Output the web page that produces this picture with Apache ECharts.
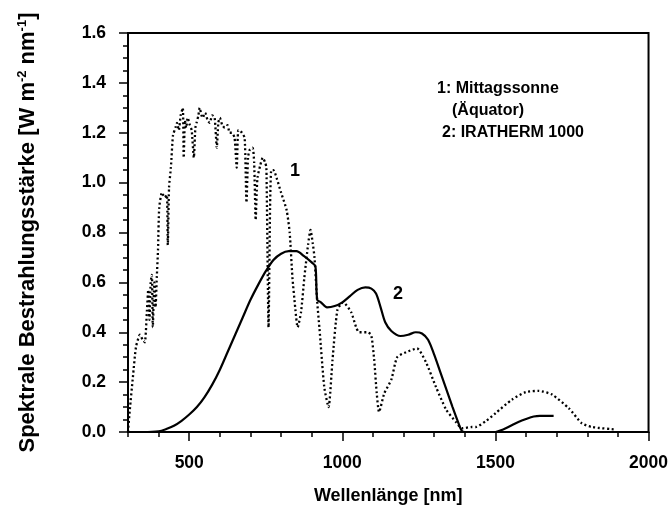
<!DOCTYPE html>
<html>
<head>
<meta charset="utf-8">
<script src="https://cdn.jsdelivr.net/npm/echarts@6/dist/echarts.min.js"></script>
<style>
    html, body { margin: 0; padding: 0; background: #fff; }
    #chart { width: 671px; height: 521px; }
</style>
</head>
<body>
<div id="chart"></div>
<script>
// curve 1: midday sun at the equator (dotted)
var sunData = [
    [300, 0.0], [306, 0.09], [316, 0.22], [326, 0.34], [339, 0.39], [348, 0.37], [355, 0.36],
    [362, 0.49], [366, 0.57], [370, 0.45], [374, 0.60], [378, 0.63], [381, 0.42], [386, 0.60],
    [390, 0.50], [394, 0.62], [398, 0.73], [402, 0.90], [411, 0.96], [420, 0.94], [427, 0.95],
    [430, 0.75], [434, 0.98], [440, 1.06], [447, 1.19], [455, 1.22], [460, 1.24], [466, 1.21],
    [472, 1.27], [479, 1.30], [482, 1.10], [486, 1.25], [490, 1.22], [495, 1.26], [502, 1.23],
    [508, 1.21], [515, 1.10], [520, 1.22], [524, 1.24], [530, 1.27], [534, 1.30], [540, 1.27],
    [544, 1.26], [552, 1.28], [560, 1.25], [567, 1.24], [575, 1.27], [583, 1.26], [590, 1.14],
    [595, 1.24], [600, 1.26], [608, 1.23], [616, 1.22], [625, 1.23], [632, 1.20], [639, 1.20],
    [648, 1.18], [655, 1.06], [660, 1.21], [665, 1.21], [672, 1.20], [681, 1.18], [687, 0.92],
    [692, 1.10], [697, 1.13], [707, 1.14], [712, 1.08], [717, 0.85], [720, 0.95], [723, 1.02],
    [732, 1.07], [740, 1.10], [748, 1.08], [752, 1.06], [759, 0.42], [764, 0.90], [768, 1.05],
    [775, 1.05], [785, 1.02], [800, 0.96], [818, 0.89], [828, 0.80], [837, 0.62], [846, 0.50],
    [854, 0.42], [865, 0.48], [876, 0.62], [888, 0.75], [896, 0.81], [903, 0.76], [909, 0.70],
    [918, 0.52], [925, 0.42], [941, 0.18], [955, 0.10], [968, 0.29], [984, 0.49], [1003, 0.52],
    [1029, 0.48], [1045, 0.42], [1055, 0.40], [1080, 0.40], [1094, 0.39], [1104, 0.29],
    [1112, 0.16], [1120, 0.08], [1137, 0.155], [1160, 0.21], [1179, 0.30], [1208, 0.32],
    [1244, 0.335], [1273, 0.28], [1306, 0.18], [1339, 0.09], [1371, 0.04], [1391, 0.015],
    [1423, 0.02], [1436, 0.02], [1470, 0.045], [1500, 0.075], [1554, 0.13], [1599, 0.16],
    [1642, 0.165], [1685, 0.15], [1740, 0.095], [1782, 0.035], [1815, 0.02], [1892, 0.01]
];

// curve 2: IRATHERM 1000 (solid)
var irathermData = [
    [300, 0], [350, 0], [400, 0.003], [425, 0.012], [450, 0.025], [475, 0.045], [500, 0.07],
    [525, 0.10], [550, 0.14], [575, 0.19], [600, 0.25], [625, 0.32], [650, 0.39], [675, 0.46],
    [700, 0.53], [725, 0.59], [750, 0.645], [775, 0.69], [800, 0.715], [825, 0.725],
    [850, 0.725], [875, 0.705], [900, 0.68], [912, 0.665], [918, 0.53], [930, 0.52],
    [950, 0.50], [975, 0.505], [1000, 0.52], [1025, 0.545], [1050, 0.57], [1075, 0.58],
    [1095, 0.575], [1110, 0.555], [1125, 0.50], [1140, 0.44], [1160, 0.405], [1190, 0.385],
    [1215, 0.39], [1240, 0.40], [1260, 0.395], [1280, 0.37], [1300, 0.31], [1320, 0.24],
    [1340, 0.17], [1360, 0.10], [1375, 0.05], [1390, 0.005], [1400, 0], [1500, 0],
    [1525, 0.01], [1550, 0.025], [1575, 0.04], [1600, 0.052], [1625, 0.062], [1645, 0.065],
    [1690, 0.065]
];

var xMajorTicks = [500, 1000, 1500, 2000];
var legendLines = ['1: Mittagssonne', '(Äquator)', '2: IRATHERM 1000'];

var font = 'Liberation Sans, Arial, sans-serif';
var chart = echarts.init(document.getElementById('chart'));

var option = {
    backgroundColor: '#fff',
    animation: false,
    grid: {
        left: 128,
        right: 21,
        top: 33,
        bottom: 89,
        show: true,
        borderColor: '#000',
        borderWidth: 2
    },
    xAxis: [
        {
            type: 'value',
            min: 300,
            max: 2000,
            name: 'Wellenlänge [nm]',
            nameLocation: 'middle',
            nameGap: 55,
            nameTextStyle: {fontFamily: font, fontWeight: 'bold', fontSize: 18, color: '#000'},
            axisLine: {show: true, onZero: false, lineStyle: {color: '#000', width: 2}},
            axisTick: {show: true, customValues: xMajorTicks, length: 9, lineStyle: {color: '#000', width: 1.5}},
            axisLabel: {
                customValues: xMajorTicks, margin: 22,
                formatter: function (v) { return String(v); },
                fontFamily: font, fontWeight: 'bold', fontSize: 17.5, color: '#000'
            },
            splitLine: {show: false}
        },
        {
            type: 'value',
            min: 300,
            max: 2000,
            interval: 100,
            position: 'bottom',
            axisLine: {show: false},
            axisTick: {show: true, length: 5, lineStyle: {color: '#000', width: 1.5}},
            axisLabel: {show: false},
            splitLine: {show: false}
        }
    ],
    yAxis: {
        type: 'value',
        min: 0,
        max: 1.6,
        interval: 0.2,
        name: 'Spektrale Bestrahlungsstärke [W m{sup|-2} nm{sup|-1}]',
        nameLocation: 'middle',
        nameGap: 89,
        nameTextStyle: {
            fontFamily: font, fontWeight: 'bold', fontSize: 22, color: '#000',
            rich: {
                sup: {fontFamily: font, fontWeight: 'bold', fontSize: 13, color: '#000', verticalAlign: 'top', padding: [0, 0, 10, 0]}
            }
        },
        axisLine: {show: true, lineStyle: {color: '#000', width: 2}},
        axisTick: {show: true, length: 9, lineStyle: {color: '#000', width: 1.5}},
        minorTick: {show: true, splitNumber: 4, length: 5, lineStyle: {color: '#000', width: 1.5}},
        axisLabel: {
            margin: 22,
            formatter: function (v) { return v.toFixed(1); },
            fontFamily: font, fontWeight: 'bold', fontSize: 17.5, color: '#000'
        },
        splitLine: {show: false}
    },
    series: [
        {
            name: 'Mittagssonne',
            type: 'line',
            data: sunData,
            showSymbol: false,
            smooth: 0.2,
            lineStyle: {color: '#000', width: 2.3, type: [2, 2.6]},
            z: 3
        },
        {
            name: 'IRATHERM 1000',
            type: 'line',
            data: irathermData,
            showSymbol: false,
            smooth: 0.3,
            lineStyle: {color: '#000', width: 2.2},
            z: 4
        }
    ],
    graphic: [
        {type: 'text', x: 295, y: 171, style: {text: '1', font: 'bold 18px ' + font, fill: '#000', align: 'center', verticalAlign: 'middle'}},
        {type: 'text', x: 398, y: 294, style: {text: '2', font: 'bold 18px ' + font, fill: '#000', align: 'center', verticalAlign: 'middle'}},
        {type: 'text', x: 437, y: 89, style: {text: legendLines[0], font: 'bold 16px ' + font, fill: '#000', verticalAlign: 'middle'}},
        {type: 'text', x: 452, y: 111, style: {text: legendLines[1], font: 'bold 16px ' + font, fill: '#000', verticalAlign: 'middle'}},
        {type: 'text', x: 442, y: 133, style: {text: legendLines[2], font: 'bold 16px ' + font, fill: '#000', verticalAlign: 'middle'}}
    ]
};

chart.setOption(option);
</script>
</body>
</html>
